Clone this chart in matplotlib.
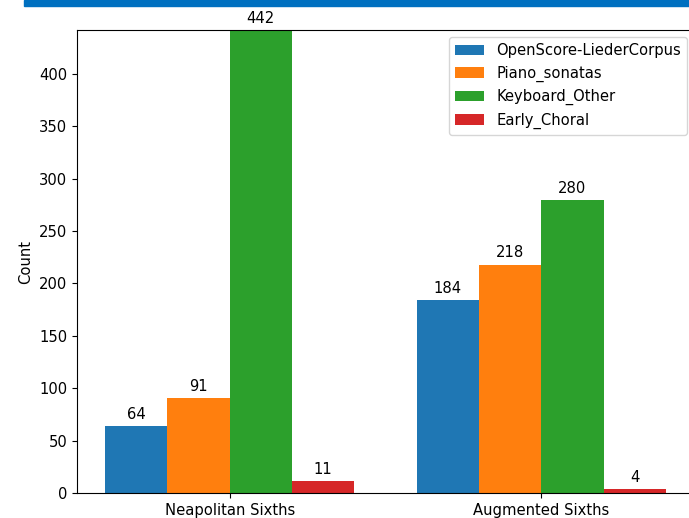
import matplotlib
matplotlib.use("Agg")
import matplotlib.pyplot as plt
import numpy as np
from matplotlib.patches import Rectangle

categories = ["Neapolitan Sixths", "Augmented Sixths"]
series_names = ["OpenScore-LiederCorpus", "Piano_sonatas", "Keyboard_Other", "Early_Choral"]
lieder = [64, 184]
piano = [91, 218]
keyboard = [442, 280]
choral = [11, 4]
series_values = [lieder, piano, keyboard, choral]

plt.rcParams["font.size"] = 10.6

fig = plt.figure(figsize=(6.89, 5.18), dpi=100)
ax = fig.add_axes([77 / 689, 1 - 493 / 518, 617 / 689, 463 / 518])

x = np.arange(len(categories))
width = 0.2
for i, (name, vals) in enumerate(zip(series_names, series_values)):
    bars = ax.bar(x + (i - 1.5) * width, vals, width, label=name)
    ax.bar_label(bars, padding=3)

ax.set_xticks(x)
ax.set_xticklabels(categories)
ax.set_ylabel("Count")
ax.set_ylim(0, max(keyboard))
ax.legend(loc="upper right")

# blue strip along the top edge of the screenshot
fig.patches.append(Rectangle((24 / 689, 1 - 6 / 518), 1, 6 / 518,
                             transform=fig.transFigure, color="#0070C0", zorder=10))

fig.savefig("out.png", dpi=100)
